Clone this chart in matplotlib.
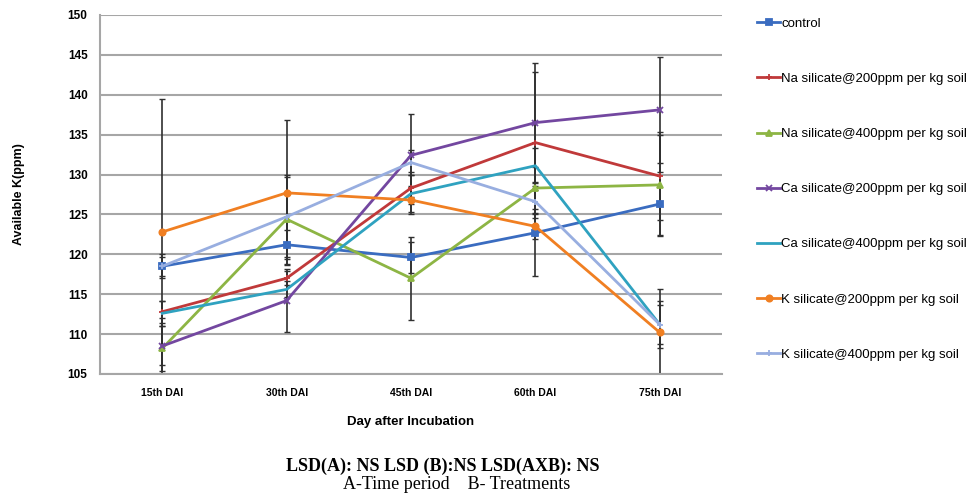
import matplotlib
matplotlib.use("Agg")
import matplotlib.pyplot as plt
import numpy as np

categories = ["15th DAI", "30th DAI", "45th DAI", "60th DAI", "75th DAI"]
series_names = [
    "control",
    "Na silicate@200ppm per kg soil",
    "Na silicate@400ppm per kg soil",
    "Ca silicate@200ppm per kg soil",
    "Ca silicate@400ppm per kg soil",
    "K silicate@200ppm per kg soil",
    "K silicate@400ppm per kg soil",
]
control = [118.5, 121.2, 119.6, 122.7, 126.3]
na200 = [112.8, 117.0, 128.3, 134.0, 129.8]
na400 = [108.2, 124.4, 117.0, 128.3, 128.7]
ca200 = [108.5, 114.2, 132.4, 136.5, 138.1]
ca400 = [112.6, 115.6, 127.6, 131.1, 111.2]
k200 = [122.8, 127.7, 126.8, 123.5, 110.2]
k400 = [118.5, 124.7, 131.5, 126.6, 111.2]

err_control = [1.5, 1.8, 2.0, 5.4, 4.0]
err_na200 = [1.4, 0.9, 2.0, 8.8, 5.5]
err_na400 = [2.8, 5.6, 5.2, 2.6, 6.3]
err_ca200 = [3.5, 4.0, 5.2, 7.5, 6.6]
err_ca400 = [1.6, 1.0, 2.3, 2.2, 2.4]
err_k200 = [16.7, 9.1, 1.8, 1.6, 5.4]
err_k400 = [1.2, 5.0, 1.6, 2.0, 3.0]

values = [control, na200, na400, ca200, ca400, k200, k400]
errors = [err_control, err_na200, err_na400, err_ca200, err_ca400, err_k200, err_k400]
colors = ["#3A6CC0", "#C0393A", "#8DB544", "#7347A0", "#2FA2C0", "#F07F22", "#98AEE0"]
markers = ["s", "+", "^", "x", "None", "o", "+"]

fig = plt.figure(figsize=(9.7, 4.97), dpi=100)
ax = fig.add_axes([0.1031, 0.2475, 0.6412, 0.7225])

x = np.arange(len(categories))
for vals, errs in zip(values, errors):
    ax.errorbar(x, vals, yerr=errs, fmt="none", ecolor="#303030", elinewidth=1.2,
                capsize=2.5, capthick=1.0, zorder=2)
for vals, c, m, name in zip(values, colors, markers, series_names):
    ax.plot(x, vals, color=c, marker=m, markersize=4.5, markeredgewidth=1.3,
            linewidth=2.0, label=name, zorder=3)

ax.set_xlim(-0.5, 4.5)
ax.set_ylim(105, 150)
ax.set_yticks(np.arange(105, 151, 5))
ax.set_xticks(x)
ax.set_xticklabels(categories)
ax.yaxis.grid(True, color="#A6A6A6", linewidth=1.5)
ax.set_axisbelow(True)
for s in ["top", "right"]:
    ax.spines[s].set_visible(False)
ax.spines["left"].set_color("#A6A6A6")
ax.spines["bottom"].set_color("#A6A6A6")
ax.spines["left"].set_linewidth(1.5)
ax.spines["bottom"].set_linewidth(1.5)
ax.tick_params(axis="y", length=0, labelsize=8.5, pad=9)
ax.tick_params(axis="x", length=0, labelsize=7.5, pad=10)
for lbl in ax.get_yticklabels() + ax.get_xticklabels():
    lbl.set_fontweight("bold")
    lbl.set_fontfamily("Liberation Sans")
ax.set_xlabel("Day after Incubation", fontsize=9.5, fontweight="bold",
              family="Liberation Sans", labelpad=13)
ax.set_ylabel("Available K(ppm)", fontsize=9, fontweight="bold",
              family="Liberation Sans", labelpad=31)

leg = fig.legend(loc="upper left", bbox_to_anchor=(0.775, 0.975), frameon=False,
                 prop={"family": "Liberation Sans", "size": 9.5},
                 labelspacing=3.25, handlelength=1.75, handletextpad=0.08,
                 borderaxespad=0)

fig.text(0.456, 0.0624, "LSD(A): NS LSD (B):NS LSD(AXB): NS", ha="center",
         va="center", family="Liberation Serif", fontweight="bold", fontsize=13)
fig.text(0.471, 0.026, "A-Time period    B- Treatments", ha="center",
         va="center", family="Liberation Serif", fontsize=13)

fig.savefig("out.png", dpi=100)
